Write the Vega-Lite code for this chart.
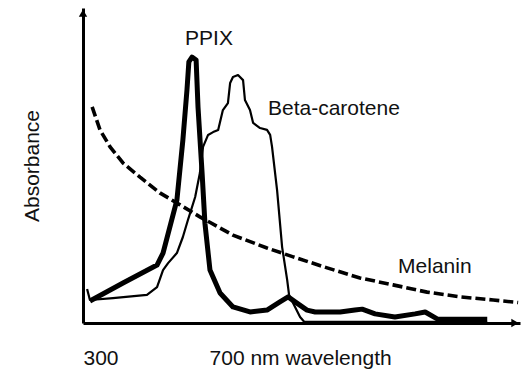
{
  "$schema": "https://vega.github.io/schema/vega-lite/v6.json",
  "width": 437,
  "height": 315,
  "autosize": {"type": "none"},
  "padding": {"left": 83, "top": 8, "right": 4, "bottom": 47},
  "background": "white",
  "config": {"view": {"stroke": null}, "font": "Liberation Sans"},
  "datasets": {
    "curves": [
      {"series": "PPIX", "wl": 322, "abs": 0.070},
      {"series": "PPIX", "wl": 427, "abs": 0.127},
      {"series": "PPIX", "wl": 535, "abs": 0.184},
      {"series": "PPIX", "wl": 554, "abs": 0.222},
      {"series": "PPIX", "wl": 598, "abs": 0.390},
      {"series": "PPIX", "wl": 617, "abs": 0.581},
      {"series": "PPIX", "wl": 630, "abs": 0.740},
      {"series": "PPIX", "wl": 636, "abs": 0.829},
      {"series": "PPIX", "wl": 646, "abs": 0.844},
      {"series": "PPIX", "wl": 659, "abs": 0.835},
      {"series": "PPIX", "wl": 665, "abs": 0.686},
      {"series": "PPIX", "wl": 678, "abs": 0.476},
      {"series": "PPIX", "wl": 687, "abs": 0.317},
      {"series": "PPIX", "wl": 703, "abs": 0.168},
      {"series": "PPIX", "wl": 735, "abs": 0.095},
      {"series": "PPIX", "wl": 776, "abs": 0.051},
      {"series": "PPIX", "wl": 830, "abs": 0.035},
      {"series": "PPIX", "wl": 884, "abs": 0.041},
      {"series": "PPIX", "wl": 925, "abs": 0.067},
      {"series": "PPIX", "wl": 951, "abs": 0.083},
      {"series": "PPIX", "wl": 979, "abs": 0.063},
      {"series": "PPIX", "wl": 1011, "abs": 0.041},
      {"series": "PPIX", "wl": 1037, "abs": 0.035},
      {"series": "PPIX", "wl": 1116, "abs": 0.035},
      {"series": "PPIX", "wl": 1163, "abs": 0.041},
      {"series": "PPIX", "wl": 1186, "abs": 0.044},
      {"series": "PPIX", "wl": 1227, "abs": 0.029},
      {"series": "PPIX", "wl": 1290, "abs": 0.019},
      {"series": "PPIX", "wl": 1354, "abs": 0.029},
      {"series": "PPIX", "wl": 1386, "abs": 0.035},
      {"series": "PPIX", "wl": 1424, "abs": 0.013},
      {"series": "PPIX", "wl": 1583, "abs": 0.012},
      {"series": "Beta-carotene", "wl": 313, "abs": 0.108},
      {"series": "Beta-carotene", "wl": 322, "abs": 0.073},
      {"series": "Beta-carotene", "wl": 395, "abs": 0.079},
      {"series": "Beta-carotene", "wl": 503, "abs": 0.089},
      {"series": "Beta-carotene", "wl": 535, "abs": 0.114},
      {"series": "Beta-carotene", "wl": 554, "abs": 0.168},
      {"series": "Beta-carotene", "wl": 570, "abs": 0.190},
      {"series": "Beta-carotene", "wl": 598, "abs": 0.222},
      {"series": "Beta-carotene", "wl": 617, "abs": 0.273},
      {"series": "Beta-carotene", "wl": 633, "abs": 0.327},
      {"series": "Beta-carotene", "wl": 640, "abs": 0.349},
      {"series": "Beta-carotene", "wl": 656, "abs": 0.400},
      {"series": "Beta-carotene", "wl": 671, "abs": 0.476},
      {"series": "Beta-carotene", "wl": 681, "abs": 0.559},
      {"series": "Beta-carotene", "wl": 697, "abs": 0.597},
      {"series": "Beta-carotene", "wl": 713, "abs": 0.606},
      {"series": "Beta-carotene", "wl": 729, "abs": 0.613},
      {"series": "Beta-carotene", "wl": 744, "abs": 0.676},
      {"series": "Beta-carotene", "wl": 760, "abs": 0.698},
      {"series": "Beta-carotene", "wl": 767, "abs": 0.762},
      {"series": "Beta-carotene", "wl": 776, "abs": 0.781},
      {"series": "Beta-carotene", "wl": 792, "abs": 0.787},
      {"series": "Beta-carotene", "wl": 808, "abs": 0.771},
      {"series": "Beta-carotene", "wl": 814, "abs": 0.708},
      {"series": "Beta-carotene", "wl": 830, "abs": 0.676},
      {"series": "Beta-carotene", "wl": 840, "abs": 0.635},
      {"series": "Beta-carotene", "wl": 862, "abs": 0.619},
      {"series": "Beta-carotene", "wl": 884, "abs": 0.613},
      {"series": "Beta-carotene", "wl": 894, "abs": 0.597},
      {"series": "Beta-carotene", "wl": 900, "abs": 0.559},
      {"series": "Beta-carotene", "wl": 916, "abs": 0.422},
      {"series": "Beta-carotene", "wl": 932, "abs": 0.241},
      {"series": "Beta-carotene", "wl": 948, "abs": 0.137},
      {"series": "Beta-carotene", "wl": 954, "abs": 0.089},
      {"series": "Beta-carotene", "wl": 989, "abs": 0.019},
      {"series": "Beta-carotene", "wl": 1002, "abs": 0.004},
      {"series": "Beta-carotene", "wl": 1583, "abs": 0.004},
      {"series": "Melanin", "wl": 329, "abs": 0.686},
      {"series": "Melanin", "wl": 354, "abs": 0.613},
      {"series": "Melanin", "wl": 386, "abs": 0.559},
      {"series": "Melanin", "wl": 427, "abs": 0.508},
      {"series": "Melanin", "wl": 481, "abs": 0.463},
      {"series": "Melanin", "wl": 544, "abs": 0.413},
      {"series": "Melanin", "wl": 608, "abs": 0.375},
      {"series": "Melanin", "wl": 671, "abs": 0.337},
      {"series": "Melanin", "wl": 776, "abs": 0.279},
      {"series": "Melanin", "wl": 884, "abs": 0.238},
      {"series": "Melanin", "wl": 967, "abs": 0.210},
      {"series": "Melanin", "wl": 1075, "abs": 0.175},
      {"series": "Melanin", "wl": 1179, "abs": 0.143},
      {"series": "Melanin", "wl": 1284, "abs": 0.121},
      {"series": "Melanin", "wl": 1392, "abs": 0.098},
      {"series": "Melanin", "wl": 1497, "abs": 0.083},
      {"series": "Melanin", "wl": 1602, "abs": 0.073},
      {"series": "Melanin", "wl": 1681, "abs": 0.065}
    ],
    "arrows": [
      {"dir": "up", "wl": 300, "abs": 0.984},
      {"dir": "right", "wl": 1671, "abs": 0}
    ],
    "labels": [
      {"text": "PPIX", "wl": 624, "abs": 0.883},
      {"text": "Beta-carotene", "wl": 887, "abs": 0.660},
      {"text": "Melanin", "wl": 1300, "abs": 0.159}
    ]
  },
  "layer": [
    {
      "data": {"name": "curves"},
      "transform": [{"filter": "datum.series == 'Beta-carotene'"}],
      "mark": {"type": "line", "color": "black", "strokeWidth": 2.2, "strokeJoin": "round"},
      "encoding": {
        "x": {
          "field": "wl", "type": "quantitative",
          "scale": {"domain": [300, 1687], "nice": false, "zero": false},
          "axis": {
            "values": [300, 700],
            "labelExpr": "datum.value == 700 ? '700 nm wavelength' : '300'",
            "labelAlign": "left", "labelDx": -17, "labelLimit": 0,
            "ticks": false, "tickSize": 0, "grid": false,
            "domainWidth": 3, "domainColor": "black",
            "labelFontSize": 21, "labelPadding": 24, "labelBaseline": "top",
            "labelColor": "#111", "labelFlush": false, "labelOverlap": false,
            "title": null
          }
        },
        "y": {
          "field": "abs", "type": "quantitative",
          "scale": {"domain": [0, 1], "nice": false},
          "axis": {
            "labels": false, "ticks": false, "tickSize": 0, "grid": false,
            "domainWidth": 3, "domainColor": "black",
            "title": "Absorbance", "titleFontSize": 21, "titleFontWeight": "normal",
            "titleColor": "#111", "titlePadding": 41
          }
        }
      }
    },
    {
      "data": {"name": "curves"},
      "transform": [{"filter": "datum.series == 'PPIX'"}],
      "mark": {"type": "line", "color": "black", "strokeWidth": 5, "strokeJoin": "round"},
      "encoding": {
        "x": {"field": "wl", "type": "quantitative"},
        "y": {"field": "abs", "type": "quantitative"}
      }
    },
    {
      "data": {"name": "curves"},
      "transform": [{"filter": "datum.series == 'Melanin'"}],
      "mark": {"type": "line", "color": "black", "strokeWidth": 3.6, "strokeDash": [10, 4], "strokeCap": "butt"},
      "encoding": {
        "x": {"field": "wl", "type": "quantitative"},
        "y": {"field": "abs", "type": "quantitative"}
      }
    },
    {
      "data": {"name": "arrows"},
      "mark": {"type": "point", "filled": true, "color": "black", "opacity": 1, "size": 70},
      "encoding": {
        "x": {"field": "wl", "type": "quantitative"},
        "y": {"field": "abs", "type": "quantitative"},
        "shape": {
          "field": "dir", "type": "nominal",
          "scale": {"domain": ["up", "right"], "range": ["triangle-up", "triangle-right"]},
          "legend": null
        }
      }
    },
    {
      "data": {"name": "labels"},
      "mark": {"type": "text", "align": "left", "baseline": "alphabetic", "fontSize": 21, "color": "#111"},
      "encoding": {
        "x": {"field": "wl", "type": "quantitative"},
        "y": {"field": "abs", "type": "quantitative"},
        "text": {"field": "text"}
      }
    }
  ]
}
